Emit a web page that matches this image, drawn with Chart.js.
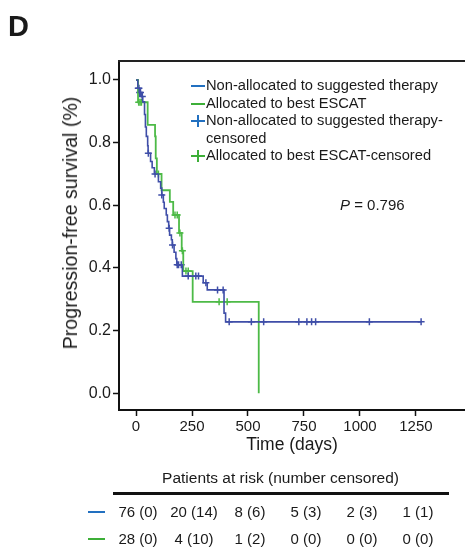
<!DOCTYPE html>
<html><head><meta charset="utf-8">
<script src="https://cdn.jsdelivr.net/npm/chart.js@4/dist/chart.umd.min.js"></script>
<style>
html,body{margin:0;padding:0;background:#fff;overflow:hidden;}
#wrap{position:relative;width:465px;height:547px;font-family:"Liberation Sans",Arial,sans-serif;color:#1a1a1a;overflow:hidden;}
#c{position:absolute;left:0;top:0;}
.abs{position:absolute;white-space:nowrap;}
.leg{position:absolute;left:190px;top:77px;font-size:14.7px;line-height:17.5px;}
.row{display:flex;align-items:center;height:17.5px;}
.mk{position:relative;width:16px;height:17.5px;flex:none;}
.mk .h{position:absolute;left:1px;width:14px;top:8px;height:2px;}
.mk .v{position:absolute;left:7px;width:2px;top:3px;height:12px;}
.risk{position:absolute;font-size:15px;transform:translateX(-50%);white-space:nowrap;}
#ytitle{position:absolute;left:70px;top:223px;font-size:19.6px;line-height:22px;transform:translate(-50%,-50%) rotate(-90deg);white-space:nowrap;}
</style></head><body>
<div id="wrap">
<canvas id="c" width="465" height="547"></canvas>
<div class="abs" style="left:8px;top:10px;font-size:29px;font-weight:bold;">D</div>
<div id="ytitle">Progression-free survival (%)</div>
<div class="leg" id="leg"></div>
<div class="abs" style="left:340px;top:196px;font-size:15px;line-height:18px;"><i>P</i> = 0.796</div>
<div class="abs" style="left:0;width:465px;top:469px;text-align:center;font-size:15.5px;padding-left:96px;box-sizing:border-box;">Patients at risk (number censored)</div>
<div class="abs" style="left:113px;top:492px;width:336px;height:3px;background:#111;"></div>
<div id="riskrows"></div>
</div>
<script>
// ---- data ----
const blueTimes = [0, 8, 14, 25, 30, 38, 42, 46, 52, 54, 65, 72, 82, 100, 110, 115, 122, 126, 135, 140, 146, 150, 158, 162, 170, 178, 182, 207, 300, 318, 393, 400, 1273];
const blueSurv  = [1.0, 0.974, 0.96, 0.947, 0.93, 0.89, 0.85, 0.82, 0.79, 0.766, 0.74, 0.72, 0.70, 0.675, 0.655, 0.633, 0.61, 0.59, 0.569, 0.548, 0.527, 0.505, 0.49, 0.473, 0.45, 0.43, 0.41, 0.374, 0.353, 0.33, 0.256, 0.228, 0.228];
const blueCensTimes = [10, 13, 16, 20, 28, 55, 85, 115, 148, 163, 184, 190, 202, 233, 267, 279, 312, 364, 389, 416, 515, 570, 727, 763, 784, 802, 1042, 1273];
const blueCensSurv  = [0.974, 0.974, 0.96, 0.96, 0.947, 0.766, 0.70, 0.633, 0.527, 0.473, 0.41, 0.41, 0.41, 0.374, 0.374, 0.374, 0.353, 0.33, 0.33, 0.228, 0.228, 0.228, 0.228, 0.228, 0.228, 0.228, 0.228, 0.228];

const greenTimes = [0, 9, 52, 85, 88, 93, 114, 151, 166, 192, 204, 211, 253, 548];
const greenSurv  = [1.0, 0.929, 0.857, 0.82, 0.75, 0.70, 0.648, 0.611, 0.569, 0.512, 0.455, 0.39, 0.292, 0];
const greenCensTimes = [12, 18, 24, 100, 174, 184, 196, 207, 223, 233, 371, 407];
const greenCensSurv  = [0.929, 0.929, 0.929, 0.70, 0.569, 0.569, 0.512, 0.455, 0.39, 0.39, 0.292, 0.292];

const xTicks = [0, 250, 500, 750, 1000, 1250];
const yTicks = [0, 0.2, 0.4, 0.6, 0.8, 1.0];

const riskTimes = [0, 250, 500, 750, 1000, 1250];
const blueAtRisk = [76, 20, 8, 5, 2, 1];
const blueCensored = [0, 14, 6, 3, 3, 1];
const greenAtRisk = [28, 4, 1, 0, 0, 0];
const greenCensored = [0, 10, 2, 0, 0, 0];

const seriesNames = ['Non-allocated to suggested therapy', 'Allocated to best ESCAT'];

// ---- styles ----
const BLUE = '#3f4ea8', GREEN = '#4dba47';
const LEG_BLUE = '#2270c0', LEG_GREEN = '#3daf38';
const FONT = '"Liberation Sans", Arial, sans-serif';
const INK = '#1a1a1a';

const pts = (t, s) => t.map((v, i) => ({x: v, y: s[i]}));

const topBorder = {
  id: 'topBorder',
  afterDraw(chart) {
    const {ctx, chartArea} = chart;
    ctx.save();
    ctx.strokeStyle = '#222';
    ctx.lineWidth = 2;
    ctx.beginPath();
    ctx.moveTo(chartArea.left - 1, chartArea.top);
    ctx.lineTo(chartArea.right, chartArea.top);
    ctx.stroke();
    ctx.restore();
  }
};

const chart = new Chart(document.getElementById('c'), {
  type: 'line',
  data: {
    datasets: [
      {label: seriesNames[0], data: pts(blueTimes, blueSurv), borderColor: BLUE, borderWidth: 1.6, stepped: true, pointRadius: 0, fill: false},
      {label: seriesNames[1], data: pts(greenTimes, greenSurv), borderColor: GREEN, borderWidth: 1.8, stepped: true, pointRadius: 0, fill: false},
      {label: seriesNames[0] + '-censored', data: pts(blueCensTimes, blueCensSurv), showLine: false, pointStyle: 'cross', pointRadius: 3.5, borderColor: BLUE, borderWidth: 1.5},
      {label: seriesNames[1] + '-censored', data: pts(greenCensTimes, greenCensSurv), showLine: false, pointStyle: 'cross', pointRadius: 3.5, borderColor: GREEN, borderWidth: 1.5}
    ]
  },
  options: {
    responsive: false, animation: false, devicePixelRatio: 1,
    layout: {autoPadding: false, padding: {left: 58, top: 61, right: 0, bottom: 91}},
    plugins: {legend: {display: false}, tooltip: {enabled: false}},
    scales: {
      x: {
        type: 'linear', min: -76, max: 1469,
        afterBuildTicks: s => { s.ticks = xTicks.map(v => ({value: v})); },
        afterFit: s => { s.height = 46; s.paddingLeft = 0; s.paddingRight = 0; },
        grid: {drawOnChartArea: false, drawTicks: true, tickLength: 6, tickColor: '#111', tickWidth: 1.5},
        border: {display: true, color: '#111', width: 2},
        ticks: {padding: 2, color: INK, font: {size: 15, family: FONT}, maxRotation: 0, autoSkip: false, callback: v => String(v)},
        title: {display: true, text: 'Time (days)', color: INK, font: {size: 17.5, family: FONT}, padding: 0}
      },
      y: {
        type: 'linear', min: -0.0533, max: 1.0606,
        afterBuildTicks: s => { s.ticks = yTicks.map(v => ({value: v})); },
        afterFit: s => { s.width = 61; s.paddingTop = 0; s.paddingBottom = 0; },
        grid: {drawOnChartArea: false, drawTicks: true, tickLength: 6, tickColor: '#111', tickWidth: 1.5},
        border: {display: true, color: '#111', width: 2},
        ticks: {padding: 2, color: INK, font: {size: 16, family: FONT}, callback: v => Number(v).toFixed(1)},
        title: {display: false}
      }
    }
  },
  plugins: [topBorder]
});

// ---- in-plot legend ----
const leg = document.getElementById('leg');
function legRow(color, cross, text, indentOnly) {
  const r = document.createElement('div'); r.className = 'row';
  const m = document.createElement('span'); m.className = 'mk';
  if (!indentOnly) {
    const h = document.createElement('span'); h.className = 'h'; h.style.background = color; m.appendChild(h);
    if (cross) { const v = document.createElement('span'); v.className = 'v'; v.style.background = color; m.appendChild(v); }
  }
  r.appendChild(m);
  const t = document.createElement('span'); t.textContent = text; r.appendChild(t);
  leg.appendChild(r);
}
legRow(LEG_BLUE, false, seriesNames[0]);
legRow(LEG_GREEN, false, seriesNames[1]);
legRow(LEG_BLUE, true, seriesNames[0] + '-');
legRow(null, false, 'censored', true);
legRow(LEG_GREEN, true, seriesNames[1] + '-censored');

// ---- risk table, aligned to x scale ----
const rr = document.getElementById('riskrows');
const xs = chart.scales.x;
function riskRow(atRisk, cens, color, cy) {
  const mk = document.createElement('div');
  mk.className = 'abs';
  mk.style.cssText = `left:88px;top:${cy - 1}px;width:17px;height:2px;background:${color};`;
  rr.appendChild(mk);
  riskTimes.forEach((t, i) => {
    const d = document.createElement('div');
    d.className = 'risk';
    d.style.left = (xs.getPixelForValue(t) + 2) + 'px';
    d.style.top = (cy - 9) + 'px';
    d.style.lineHeight = '18px';
    d.textContent = `${atRisk[i]} (${cens[i]})`;
    rr.appendChild(d);
  });
}
riskRow(blueAtRisk, blueCensored, LEG_BLUE, 512);
riskRow(greenAtRisk, greenCensored, LEG_GREEN, 539);
</script>
</body></html>
